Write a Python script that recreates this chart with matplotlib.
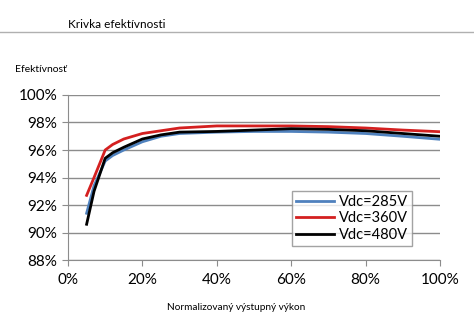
import numpy as np
import matplotlib
matplotlib.use("Agg")
import matplotlib.pyplot as plt
from matplotlib.ticker import FuncFormatter

plt.rcParams["font.family"] = ["Lato", "DejaVu Sans"]

# Normalised output power (%) and efficiency (%) per DC voltage
load_285 = [5, 7, 10, 12, 15, 20, 25, 30, 40, 50, 60, 70, 80, 90, 100]
eff_285 = [91.4, 93.4, 95.2, 95.6, 96.0, 96.6, 97.0, 97.2, 97.3, 97.35, 97.35, 97.3, 97.2, 97.0, 96.78]

load_360 = [5, 7, 10, 12, 15, 20, 25, 30, 40, 50, 60, 70, 80, 90, 100]
eff_360 = [92.7, 94.0, 96.0, 96.4, 96.8, 97.2, 97.4, 97.6, 97.75, 97.75, 97.75, 97.7, 97.6, 97.45, 97.33]

load_480 = [5, 7, 10, 12, 15, 20, 25, 30, 40, 50, 60, 70, 80, 85, 90, 100]
eff_480 = [90.6, 93.0, 95.4, 95.8, 96.2, 96.8, 97.1, 97.3, 97.35, 97.45, 97.55, 97.5, 97.4, 97.3, 97.2, 97.0]

labels = ["Vdc=285V", "Vdc=360V", "Vdc=480V"]
colors = ["#4f81bd", "#d42020", "#000000"]

fig = plt.figure(figsize=(4.74, 3.24), dpi=100)
ax = fig.add_axes([0.1435, 0.1975, 0.7845, 0.5093])

ax.plot(load_285, eff_285, color=colors[0], lw=2, label=labels[0])
ax.plot(load_360, eff_360, color=colors[1], lw=2, label=labels[1])
ax.plot(load_480, eff_480, color=colors[2], lw=2, label=labels[2])

ax.set_xlim(0, 100)
ax.set_ylim(88, 100)
ax.set_xticks(np.arange(0, 101, 20))
ax.set_yticks(np.arange(88, 101, 2))
pct = FuncFormatter(lambda v, p: f"{v:.0f}%")
ax.xaxis.set_major_formatter(pct)
ax.yaxis.set_major_formatter(pct)
ax.grid(True, axis="y", color="#8c8c8c", lw=1)
ax.set_axisbelow(True)
for s in ["top", "right"]:
    ax.spines[s].set_visible(False)
for s in ["left", "bottom"]:
    ax.spines[s].set_color("#8c8c8c")
ax.tick_params(axis="both", colors="#8c8c8c", labelcolor="black", labelsize=11, length=4)
ax.tick_params(axis="x", pad=5)

leg = ax.legend(loc="lower left", bbox_to_anchor=(0.602, 0.085), frameon=True, fancybox=False,
                edgecolor="#8c8c8c", fontsize=10.5, handlelength=2.6, handletextpad=0.3,
                labelspacing=0.15, borderpad=0.3, borderaxespad=0)
leg.get_frame().set_linewidth(1)

fig.text(68 / 474, 1 - 24 / 324, "Krivka efektívnosti", fontsize=8.5, va="center", ha="left")
fig.add_artist(plt.Line2D([0, 1], [1 - 32 / 324] * 2, color="#b0b0b0", lw=1))
fig.text(15 / 474, 1 - 70 / 324, "Efektívnosť", fontsize=7.5, va="center", ha="left")
fig.text(236 / 474, 1 - 307 / 324, "Normalizovaný výstupný výkon", fontsize=7.2, va="center", ha="center")

fig.savefig("out.png", dpi=100)
